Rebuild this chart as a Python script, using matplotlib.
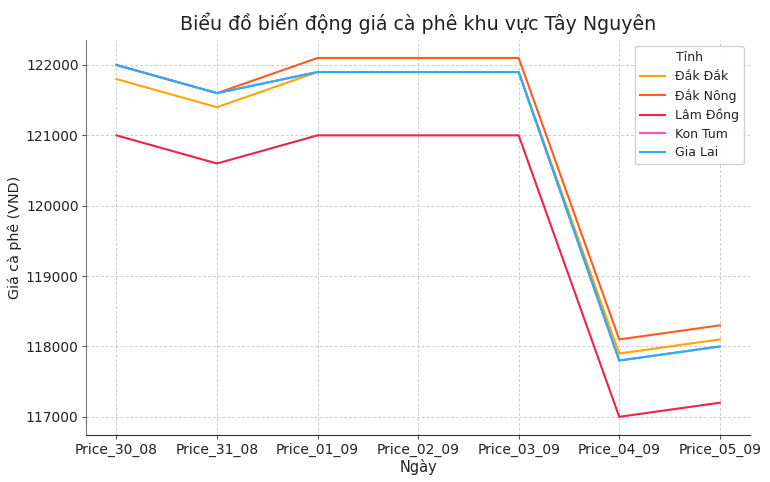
import matplotlib.pyplot as plt

days = ["Price_30_08", "Price_31_08", "Price_01_09", "Price_02_09",
        "Price_03_09", "Price_04_09", "Price_05_09"]
provinces = ["Đắk Đắk", "Đắk Nông", "Lâm Đồng", "Kon Tum", "Gia Lai"]
dak_lak = [121800, 121400, 121900, 121900, 121900, 117900, 118100]
dak_nong = [122000, 121600, 122100, 122100, 122100, 118100, 118300]
lam_dong = [121000, 120600, 121000, 121000, 121000, 117000, 117200]
kon_tum = [122000, 121600, 121900, 121900, 121900, 117800, 118000]
gia_lai = [122000, 121600, 121900, 121900, 121900, 117800, 118000]
colors = ["#FFA500", "#FF5A1F", "#F0224A", "#FF4FC8", "#1EB4F5"]

plt.rcParams["text.color"] = "#222222"
fig, ax = plt.subplots(figsize=(7.7, 4.82), dpi=100)
fig.subplots_adjust(left=0.112, right=0.974, top=0.917, bottom=0.098)
for name, vals, c in zip(provinces, [dak_lak, dak_nong, lam_dong, kon_tum, gia_lai], colors):
    ax.plot(days, vals, label=name, color=c, linewidth=1.5)

ax.set_title("Biểu đồ biến động giá cà phê khu vực Tây Nguyên", fontsize=13.7,
             color="#222222", pad=7)
ax.set_xlabel("Ngày", fontsize=10.5, color="#222222", labelpad=2)
ax.set_ylabel("Giá cà phê (VND)", fontsize=10.3, color="#222222", labelpad=3)
ax.tick_params(labelsize=10, labelcolor="#222222", color="#555555", length=3, pad=2.5)
ax.grid(True, linestyle="--", color="#cccccc", linewidth=0.7, dashes=(3, 2))
for s in ["top", "right"]:
    ax.spines[s].set_visible(False)
ax.spines["left"].set_color("#777777")
ax.spines["bottom"].set_color("#333333")
ax.legend(title="Tỉnh", fontsize=9, title_fontsize=9, loc="upper right",
          fancybox=True, framealpha=0.9, labelspacing=0.45)

plt.savefig("out.png")
